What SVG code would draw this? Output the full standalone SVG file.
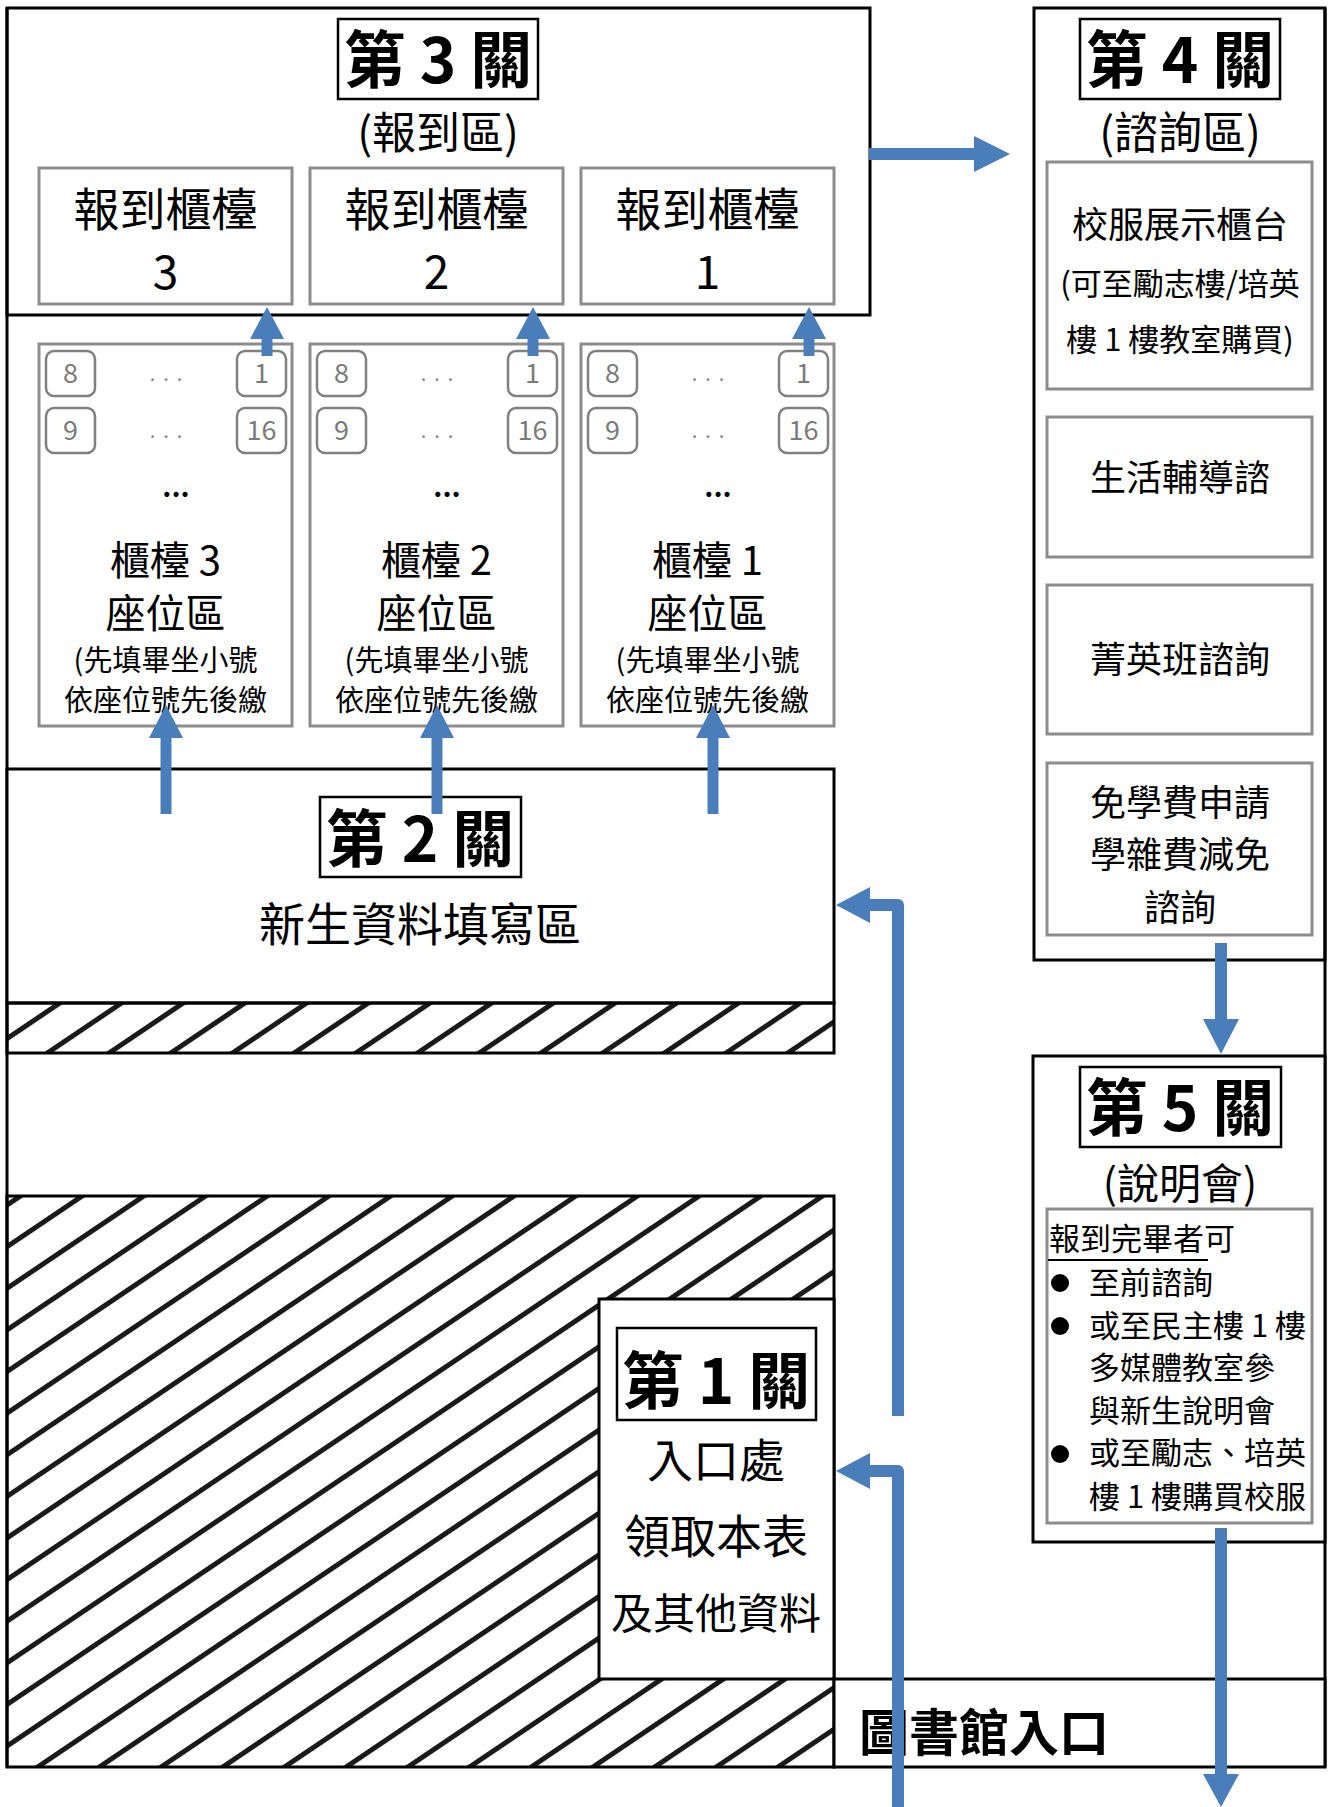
<svg xmlns="http://www.w3.org/2000/svg" width="1328" height="1807" viewBox="0 0 1328 1807">
<defs>
<style>
text{font-family:"Noto Sans CJK TC","Noto Sans CJK SC",sans-serif;fill:#000}
.c{text-anchor:middle}
.b{font-weight:bold}
.wall{fill:none;stroke:#000;stroke-width:3}
.wallw{fill:#fff;stroke:#000;stroke-width:3}
.tag{fill:#fff;stroke:#000;stroke-width:2.5}
.gbox{fill:#fff;stroke:#8c8c8c;stroke-width:3}
.seat{fill:#fff;stroke:#808080;stroke-width:2.5}
.num{font-size:27px;fill:#7a7a7a;text-anchor:middle}
.dots{font-size:20px;fill:#8a8a8a;text-anchor:middle;letter-spacing:8px}
.shaft{fill:none;stroke:#4a7ebb;stroke-width:12}
.head{fill:#4a7ebb}
</style>
<pattern id="hatch" patternUnits="userSpaceOnUse" width="20" height="34.5" patternTransform="rotate(-34)">
<rect x="0" y="0" width="20" height="5" fill="#1a1a1a"/>
</pattern>
<g id="seatgrid">
<rect class="seat" x="7" y="351" width="49" height="45" rx="8"/>
<rect class="seat" x="198" y="351" width="49" height="45" rx="8"/>
<rect class="seat" x="7" y="408" width="49" height="45" rx="8"/>
<rect class="seat" x="198" y="408" width="49" height="45" rx="8"/>
<text class="num" x="31.5" y="383">8</text>
<text class="num" x="222.5" y="383">1</text>
<text class="num" x="31.5" y="440">9</text>
<text class="num" x="222.5" y="440">16</text>
<text class="dots" x="131" y="381">...</text>
<text class="dots" x="131" y="438">...</text>
<text class="b c" x="137" y="497" font-size="28">...</text>
</g>
</defs>
<rect width="1328" height="1807" fill="#fff"/>

<g id="outer-walls">
<line class="wall" x1="7" y1="8" x2="7" y2="1767"/>
<line class="wall" x1="1325" y1="8" x2="1325" y2="1767"/>
</g>

<g id="stage3">
<rect class="wall" x="7" y="8" width="863" height="307"/>
<rect class="tag" x="338" y="19" width="200" height="80"/>
<text class="b c" x="438" y="83" font-size="62">第 3 關</text>
<text class="c" x="438" y="149" font-size="44">(報到區)</text>
</g>

<g id="counter3">
<rect class="gbox" x="39" y="168" width="253" height="136"/>
<text class="c" x="165.5" y="226" font-size="46">報到櫃檯</text>
<text class="c" x="165.5" y="289" font-size="46">3</text>
</g>
<g id="counter2">
<rect class="gbox" x="310" y="168" width="253" height="136"/>
<text class="c" x="436.5" y="226" font-size="46">報到櫃檯</text>
<text class="c" x="436.5" y="289" font-size="46">2</text>
</g>
<g id="counter1">
<rect class="gbox" x="581" y="168" width="253" height="136"/>
<text class="c" x="707.5" y="226" font-size="46">報到櫃檯</text>
<text class="c" x="707.5" y="289" font-size="46">1</text>
</g>

<g id="seats3">
<rect class="gbox" x="39" y="344" width="253" height="382"/>
<use href="#seatgrid" x="39" y="0"/>
<text class="c" x="165.5" y="575" font-size="40">櫃檯 3</text>
<text class="c" x="165.5" y="628" font-size="40">座位區</text>
<text class="c" x="165.5" y="671" font-size="29">(先填畢坐小號</text>
<text class="c" x="165.5" y="711" font-size="29">依座位號先後繳</text>
</g>
<g id="seats2">
<rect class="gbox" x="310" y="344" width="253" height="382"/>
<use href="#seatgrid" x="310" y="0"/>
<text class="c" x="436.5" y="575" font-size="40">櫃檯 2</text>
<text class="c" x="436.5" y="628" font-size="40">座位區</text>
<text class="c" x="436.5" y="671" font-size="29">(先填畢坐小號</text>
<text class="c" x="436.5" y="711" font-size="29">依座位號先後繳</text>
</g>
<g id="seats1">
<rect class="gbox" x="581" y="344" width="253" height="382"/>
<use href="#seatgrid" x="581" y="0"/>
<text class="c" x="707.5" y="575" font-size="40">櫃檯 1</text>
<text class="c" x="707.5" y="628" font-size="40">座位區</text>
<text class="c" x="707.5" y="671" font-size="29">(先填畢坐小號</text>
<text class="c" x="707.5" y="711" font-size="29">依座位號先後繳</text>
</g>

<g id="stage2">
<rect class="wallw" x="7" y="769" width="827" height="234"/>
<rect fill="url(#hatch)" x="7" y="1003" width="827" height="50"/>
<rect class="wall" x="7" y="1003" width="827" height="50"/>
<rect class="tag" x="320" y="797" width="201" height="80"/>
<text class="b c" x="420" y="862" font-size="62">第 2 關</text>
<text class="c" x="420" y="941" font-size="46">新生資料填寫區</text>
</g>

<g id="hatched-area">
<rect fill="url(#hatch)" x="7" y="1196" width="827" height="571"/>
<rect class="wall" x="7" y="1196" width="827" height="571"/>
</g>

<g id="stage1">
<rect class="wallw" x="599" y="1299" width="235" height="380"/>
<rect class="tag" x="617" y="1328" width="199" height="92"/>
<text class="b c" x="716" y="1404" font-size="62">第 1 關</text>
<text class="c" x="716" y="1477" font-size="46">入口處</text>
<text class="c" x="716" y="1553" font-size="46">領取本表</text>
<text class="c" x="716" y="1629" font-size="42">及其他資料</text>
</g>

<g id="library-entrance">
<rect class="wallw" x="834" y="1679" width="491" height="88"/>
<text class="b" x="859" y="1751" font-size="50">圖書館入口</text>
</g>

<g id="stage4">
<rect class="wall" x="1034" y="8" width="291" height="952"/>
<rect class="tag" x="1080" y="19" width="200" height="80"/>
<text class="b c" x="1180" y="83" font-size="62">第 4 關</text>
<text class="c" x="1180" y="149" font-size="44">(諮詢區)</text>
</g>
<g id="uniform-display">
<rect class="gbox" x="1047" y="162" width="265" height="227"/>
<text class="c" x="1180" y="238" font-size="36">校服展示櫃台</text>
<text class="c" x="1180" y="295" font-size="31">(可至勵志樓/培英</text>
<text class="c" x="1180" y="351" font-size="31">樓 1 樓教室購買)</text>
</g>
<g id="life-counseling">
<rect class="gbox" x="1047" y="417" width="265" height="140"/>
<text class="c" x="1180" y="491" font-size="36">生活輔導諮</text>
</g>
<g id="elite-class">
<rect class="gbox" x="1047" y="585" width="265" height="149"/>
<text class="c" x="1180" y="673" font-size="36">菁英班諮詢</text>
</g>
<g id="tuition">
<rect class="gbox" x="1047" y="763" width="265" height="172"/>
<text class="c" x="1180" y="816" font-size="36">免學費申請</text>
<text class="c" x="1180" y="868" font-size="36">學雜費減免</text>
<text class="c" x="1180" y="921" font-size="36">諮詢</text>
</g>

<g id="stage5">
<rect class="wallw" x="1033" y="1056" width="292" height="486"/>
<rect class="tag" x="1080" y="1067" width="201" height="80"/>
<text class="b c" x="1180" y="1131" font-size="62">第 5 關</text>
<text class="c" x="1180" y="1199" font-size="42">(說明會)</text>
<rect class="gbox" x="1047" y="1209" width="265" height="314"/>
<text x="1049" y="1250" font-size="31">報到完畢者可</text>
<line x1="1048" y1="1260" x2="1208" y2="1260" stroke="#000" stroke-width="1.8"/>
<circle cx="1060" cy="1283" r="9"/>
<circle cx="1060" cy="1326" r="9"/>
<circle cx="1060" cy="1454" r="9"/>
<text x="1089" y="1294" font-size="31">至前諮詢</text>
<text x="1089" y="1337" font-size="31">或至民主樓 1 樓</text>
<text x="1089" y="1379" font-size="31">多媒體教室參</text>
<text x="1089" y="1422" font-size="31">與新生說明會</text>
<text x="1089" y="1464" font-size="31">或至勵志、培英</text>
<text x="1089" y="1508" font-size="31">樓 1 樓購買校服</text>
</g>

<g id="connectors">
<line class="shaft" x1="869" y1="154" x2="975" y2="154"/>
<polygon class="head" points="974,136 1010,154 974,172"/>

<line class="shaft" x1="267" y1="356" x2="267" y2="338" style="stroke-width:11"/>
<polygon class="head" points="250,339 267,307 284,339"/>
<line class="shaft" x1="533" y1="356" x2="533" y2="338" style="stroke-width:11"/>
<polygon class="head" points="516,339 533,307 550,339"/>
<line class="shaft" x1="809" y1="356" x2="809" y2="338" style="stroke-width:11"/>
<polygon class="head" points="792,339 809,307 826,339"/>

<line class="shaft" x1="166" y1="814" x2="166" y2="737" style="stroke-width:11"/>
<polygon class="head" points="149,738 166,705 183,738"/>
<line class="shaft" x1="437" y1="814" x2="437" y2="737" style="stroke-width:11"/>
<polygon class="head" points="420,738 437,705 454,738"/>
<line class="shaft" x1="713" y1="814" x2="713" y2="737" style="stroke-width:11"/>
<polygon class="head" points="696,738 713,705 730,738"/>

<path class="shaft" d="M898,1416 V905 H869" stroke-linejoin="round"/>
<polygon class="head" points="870,887 836,905 870,923"/>
<path class="shaft" d="M898,1807 V1471 H869" stroke-linejoin="round"/>
<polygon class="head" points="870,1453 836,1471 870,1489"/>

<line class="shaft" x1="1221" y1="943" x2="1221" y2="1020"/>
<polygon class="head" points="1203,1019 1221,1054 1239,1019"/>
<line class="shaft" x1="1221" y1="1528" x2="1221" y2="1775"/>
<polygon class="head" points="1203,1774 1221,1807 1239,1774"/>
</g>
</svg>
